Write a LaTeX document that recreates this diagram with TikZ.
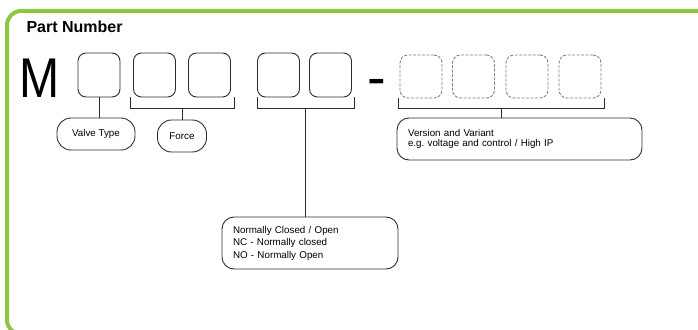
\documentclass[tikz,border=0pt]{standalone}
\usepackage{fontspec}
\setmainfont{Liberation Sans}
\usetikzlibrary{positioning,calc}
\definecolor{framegreen}{RGB}{141,198,63}
\definecolor{linegray}{RGB}{45,45,45}
\frenchspacing

\begin{document}
\begin{tikzpicture}[x=1pt,y=-1pt]
\tikzstyle{digit}=[rectangle,rounded corners=8pt,draw=linegray,line width=0.9pt,
inner sep=0pt,minimum width=42pt,minimum height=44pt,node distance=55pt]
\tikzstyle{spare}=[digit,draw=gray,dash pattern=on 3pt off 1.5pt,minimum height=43pt]
\tikzstyle{infobox}=[rectangle,rounded corners=14pt,draw=linegray,line width=0.9pt,
inner sep=0pt,font=\fontsize{9.8}{12}\selectfont]
\tikzstyle{bracket}=[linegray,line width=0.9pt]
\useasboundingbox (0,0) rectangle (698,329);
\clip (0,0) rectangle (698,329);
\draw[framegreen,line width=4pt,rounded corners=14pt] (702,11) -- (7,11) -- (7,334) -- (60,334);

\node[font=\bfseries\fontsize{16}{18}\selectfont,anchor=west] (title) at (23,27) {Part Number};
\node[font=\fontsize{56}{56}\selectfont,anchor=base,xscale=0.86,inner sep=0pt] (m) at (40,97) {M};

\node[digit] at (99,75) (b1) {};
\node[digit,right of=b1,xshift=0.5pt] (b2) {};
\node[digit,right of=b2] (b3) {};
\node[digit,right of=b3,xshift=14pt] (b4) {};
\node[digit,right of=b4,xshift=-3pt] (b5) {};
\node[font=\fontsize{56}{56}\selectfont,anchor=base,inner sep=0pt] (dash) at (377,96) {-};
\node[spare,right of=b5,xshift=35.5pt,yshift=-1.5pt] (d1) {};
\node[spare,right of=d1,xshift=-2.5pt] (d2) {};
\node[spare,right of=d2,xshift=-1.5pt] (d3) {};
\node[spare,right of=d3,xshift=-2pt] (d4) {};

\node[infobox,minimum width=78pt,minimum height=32pt] at (96,134) (valve) {Valve Type};
\node[infobox,minimum width=49pt,minimum height=32pt] at (182,136) (force) {Force};
\node[infobox,rounded corners=12pt,align=left,text width=223pt,inner xsep=11pt,
minimum height=42pt,font=\fontsize{9.8}{10.8}\selectfont] at (519.5,139) (version)
{Version and Variant\\e.g. voltage and control / High IP};
\node[infobox,rounded corners=12pt,align=left,text width=154pt,inner xsep=11pt,
minimum height=52pt,font=\fontsize{9.8}{12.5}\selectfont] at (310,243) (nc)
{Normally Closed / Open\\NC - Normally closed\\NO - Normally Open};

\coordinate (brF) at ($([xshift=-3pt]b2.south west)!0.5!([xshift=3pt]b3.south east)+(0,11)$);
\coordinate (brN) at ($(b4.south west)!0.5!([xshift=2pt]b5.south east)+(0,11)$);
\coordinate (brV) at ($([xshift=-1pt]d1.south west)!0.5!([xshift=3pt]d4.south east)+(0,10)$);

\draw[bracket] ([xshift=-3pt]b2.south west) -- ++(0,11) -| ([xshift=3pt]b3.south east);
\draw[bracket] (b4.south west) -- ++(0,11) -| ([xshift=2pt]b5.south east);
\draw[bracket] ([xshift=-1pt]d1.south west) -- ++(0,10) -| ([xshift=3pt]d4.south east);

\draw[bracket] (b1.south) -- (b1.south |- valve.north);
\draw[bracket] (brF) -- (brF |- force.north);
\draw[bracket] (brN) -- (brN |- nc.north);
\draw[bracket] (brV) -- (brV |- version.north);

\end{tikzpicture}
\end{document}
